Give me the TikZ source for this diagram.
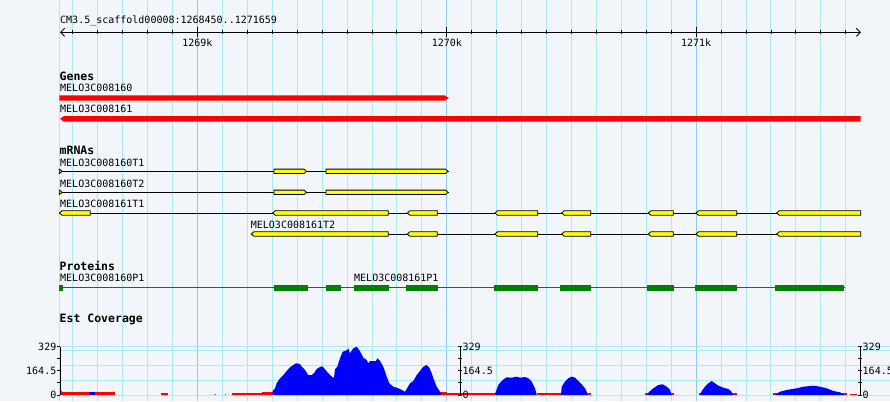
\documentclass[tikz,border=0pt]{standalone}
\usepackage{fontspec}
\newfontfamily\trackfont{DejaVu Sans Mono}
\usetikzlibrary{arrows.meta}
\definecolor{pagebg}{RGB}{242,245,250}
\definecolor{gridline}{RGB}{172,234,240}
\definecolor{gridmajor}{RGB}{140,204,236}
\definecolor{genered}{RGB}{255,0,0}
\definecolor{exonyellow}{RGB}{255,255,0}
\definecolor{protgreen}{RGB}{0,128,0}
\definecolor{estblue}{RGB}{0,0,255}
\newcommand{\fwdexon}[3]{\draw[exon] (#1,#3-2.2) -- (#2,#3-2.2) -- (#2+2.5,#3) -- (#2,#3+2.2) -- (#1,#3+2.2) -- cycle;}
\newcommand{\revexon}[3]{\draw[exon] (#1,#3) -- (#1+2.5,#3-2.2) -- (#2,#3-2.2) -- (#2,#3+2.2) -- (#1+2.5,#3+2.2) -- cycle;}
\newcommand{\bpx}[1]{-51.9+24.935*#1}
\begin{document}
\begin{tikzpicture}[x=1pt, y=-1pt,
  every node/.style = {font=\trackfont\fontsize{10}{12}\selectfont, inner sep=0pt, anchor=west},
  tracktitle/.style = {font=\trackfont\bfseries\fontsize{11.5}{13}\selectfont},
  grid/.style = {gridline, line width=1pt},
  exon/.style = {draw=black, fill=exonyellow, line width=0.8pt},
  intron/.style = {draw=black, line width=0.8pt},
  scaletick/.style = {draw=black, line width=0.9pt}]

  \fill[pagebg] (0,0) rectangle (890,401);
  \useasboundingbox (0,0) rectangle (890,401);

  % background grid
  \draw[grid] (59.5,0) -- (59.5,401);
  \foreach \k in {5,...,36}
    \draw[grid] ({\bpx{\k}},0) -- ++(0,401);
  \foreach \k in {10,20,30}
    \draw[grid, gridmajor] ({\bpx{\k}},0) -- ++(0,401);
  \foreach \y in {346.7,350,365,380,395}
    \draw[grid] (60,\y) -- (890,\y);

  % ruler
  \node (region) at (60,21) {CM3.5\_scaffold00008:1268450..1271659};
  \draw[line width=0.9pt, {Straight Barb[length=4pt,width=8pt]}-{Straight Barb[length=4pt,width=8pt]}] (60,32.3) -- (861,32.3);
  \foreach \k in {5,...,36}
    \draw[line width=0.9pt] ({\bpx{\k}},30) -- ++(0,4.5);
  \foreach \k/\lab in {10/1269k,20/1270k,30/1271k} {
    \draw[line width=0.9pt] ({\bpx{\k}},27) -- ++(0,10);
    \node[anchor=center] (tick\k) at ({\bpx{\k}},43) {\lab};
  }

  % genes
  \node[tracktitle] (genes) at (59.5,76) {Genes};
  \node (gene160) at (60,88.3) {MELO3C008160};
  \fill[genered] (59.3,95.3) -- (445,95.3) -- (446,96.3) -- (449,98) -- (446,99.7) -- (445,100.7) -- (59.3,100.7) -- cycle;
  \node (gene161) at (60,109) {MELO3C008161};
  \fill[genered] (60,118.8) -- (64,116) -- (860.7,116) -- (860.7,121.7) -- (64,121.7) -- cycle;

  % mRNAs
  \node[tracktitle] (mrnas) at (59.5,150) {mRNAs};
  \node (t160a) at (60,162.7) {MELO3C008160T1};
  \node (t160b) at (60,183.5) {MELO3C008160T2};
  \node (t161a) at (60,204.3) {MELO3C008161T1};
  \node (t161b) at (250.7,225.2) {MELO3C008161T2};
  \foreach \y in {171.3,192.3} {
    \draw[intron] (59.5,\y) -- (449,\y);
    \fwdexon{59.3}{59.6}{\y}
    \foreach \a/\b in {274/304,326/445.5} {\fwdexon{\a}{\b}{\y}}
  }
  \draw[intron] (59.5,213) -- (860.7,213);
  \revexon{59.5}{90.3}{213}
  \revexon{272.7}{388.3}{213}
  \draw[intron] (251.3,234) -- (860.7,234);
  \revexon{251.3}{388.3}{234}
  \foreach \y in {213,234} {
    \foreach \a/\b in {407.3/437.3,495/537.7,561.7/590.7,648.3/673.3,696/736.7,776.7/860.7} {\revexon{\a}{\b}{\y}}
  }

  % proteins
  \node[tracktitle] (proteins) at (59.5,266) {Proteins};
  \node (p160) at (60,278) {MELO3C008160P1};
  \node (p161) at (354,278) {MELO3C008161P1};
  \draw[protgreen, line width=1pt] (60,287.3) -- (845,287.3);
  \foreach \a/\b in {59.3/63,274/307.7,326/340.7,354/388.7,406/437.7,494/538,560/591,647/674,695/737,775/844}
    \fill[protgreen] (\a,284.5) rectangle (\b,290.5);

  % est coverage
  \node[tracktitle] (estcov) at (59.5,319) {Est Coverage};
  \foreach \a/\b/\t in {60/115/392.3,60/62/391,161/168/393.3,214.5/216/393.5,224.5/226/393.5,232/262/393,262/273/392,
      441.7/495/393.3,440/447/392,536.7/561/393,588/590.5/393,645/647.5/393,671/673.5/393,699/701.5/393,
      732.5/737/393,773/778/393,842/847/393,850/857/393.5}
    \fill[genered] (\a,\t) rectangle (\b,395);
  \fill[estblue] (89.3,391.5) rectangle (95,395);
  \fill[estblue] (272.7,395) -- (272.7,391) -- (275,388.3) -- (276.7,383.3) -- (280,378.3) -- (283.3,375) -- (286.7,371)
    -- (290,367.3) -- (293.3,365) -- (296,363.3) -- (300,364) -- (301.7,366.7) -- (305,370) -- (308.3,375) -- (311.7,375)
    -- (314,373.3) -- (316.7,369) -- (320,367) -- (322.3,366.3) -- (325,369.3) -- (328.3,373.3) -- (331.7,376.7)
    -- (334,377.7) -- (335,369.3) -- (337.3,366.7) -- (340,358.3) -- (342.7,351.7) -- (347.3,350) -- (348.3,348.3)
    -- (350,353.3) -- (353.3,348.3) -- (356.7,346.7) -- (359.3,350) -- (363.3,357.7) -- (366.7,360) -- (368.3,363.3)
    -- (370,361) -- (376,361) -- (377.3,358.3) -- (380,361) -- (383.3,366.7) -- (386.7,376.7) -- (389.3,383.3)
    -- (393.3,386.7) -- (396.7,387.7) -- (400,389) -- (405,391.7) -- (406.7,389) -- (410,383.3) -- (413.3,381)
    -- (416.7,375) -- (420,371) -- (423.3,366.7) -- (426.7,365) -- (429.3,367.7) -- (431.7,373.3) -- (434,380)
    -- (436.7,386.7) -- (440,391.7) -- (441.7,395) -- cycle;
  \fill[estblue] (495,395) -- (495,394) -- (498.3,385) -- (501.7,381) -- (505,378.3) -- (506.7,377.3) -- (511.7,377.7)
    -- (516.7,376.7) -- (520,377.7) -- (525,377) -- (528.3,378.3) -- (531.7,381.7) -- (535,388.3) -- (536.7,395) -- cycle;
  \fill[estblue] (561,395) -- (561.7,386.7) -- (565,381.7) -- (568.3,378.3) -- (571.7,376.7) -- (575,377.7) -- (578.3,381)
    -- (581.7,384.3) -- (585,388.3) -- (586.7,391.7) -- (588.3,395) -- cycle;
  \fill[estblue] (646.7,395) -- (649.3,391.7) -- (653.3,388.3) -- (658.3,385) -- (662.7,384.3) -- (666.7,386.7)
    -- (670,390) -- (671.7,395) -- cycle;
  \fill[estblue] (700,395) -- (701.7,391) -- (705,386.7) -- (708.3,383.3) -- (711.7,381) -- (715,383.3) -- (718.3,385.7)
    -- (723.3,387.7) -- (728.3,389) -- (731.7,391.7) -- (733.3,395) -- cycle;
  \fill[estblue] (775,395) -- (780,391.7) -- (786.7,390) -- (796.7,388.3) -- (803.3,386.7) -- (813.3,385.7) -- (820,386.7)
    -- (826.7,388.3) -- (833.3,391) -- (840,392.3) -- (845,395) -- cycle;

  % coverage scales
  \draw[scaletick] (60,346.7) -- (60,395);
  \foreach \y in {346.7,358.7,370.8,382.9,395}
    \draw[scaletick] (57,\y) -- (60,\y);
  \node[anchor=east] (lmax) at (56.5,347) {329};
  \node[anchor=east] (lmid) at (56.5,371) {164.5};
  \node[anchor=east] (lzero) at (56.5,395) {0};
  \foreach \sx/\nm in {460.7/mid,860.7/right} {
    \draw[scaletick] (\sx,346.7) -- (\sx,395);
    \foreach \y in {346.7,358.7,370.8,382.9,395} {
      \draw[scaletick] (\sx-2.5,\y) -- (\sx+1,\y);
    }
    \node (\nm max) at (\sx+1.8,347) {329};
    \node (\nm mid) at (\sx+1.8,371) {164.5};
    \node (\nm zero) at (\sx+1.8,395) {0};
  }
\end{tikzpicture}
\end{document}
